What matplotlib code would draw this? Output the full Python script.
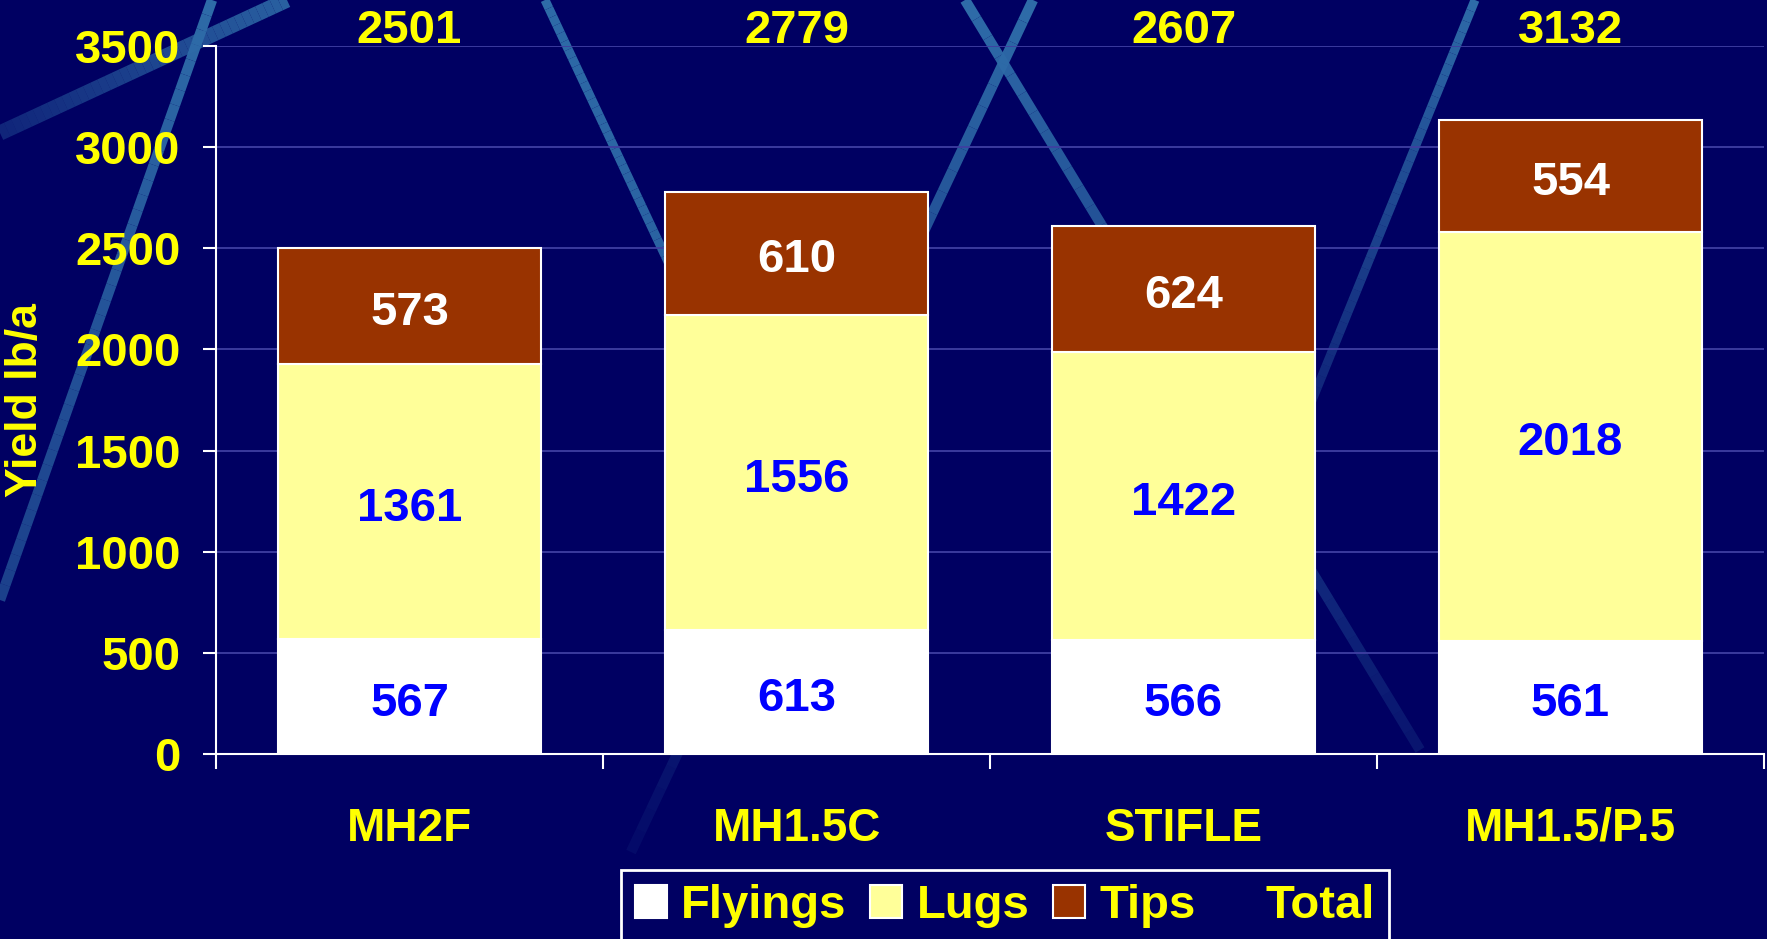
import numpy as np
import matplotlib.pyplot as plt
from matplotlib.patches import Patch
from matplotlib.collections import LineCollection

# donnees
categories = ['MH2F', 'MH1.5C', 'STIFLE', 'MH1.5/P.5']
flyings = [567, 613, 566, 561]
lugs = [1361, 1556, 1422, 2018]
tips = [573, 610, 624, 554]
totals = [2501, 2779, 2607, 3132]

W, H = 1767, 939
fond = '#000062'
jaune = '#ffff00'
plt.rcParams['font.family'] = 'Liberation Sans'
plt.rcParams['font.weight'] = 'bold'

fig = plt.figure(figsize=(W / 100, H / 100), dpi=100, facecolor=fond)


def trait(x0, y0, x1, y1, lw, a0, a1, n=40):
    # trait decoratif du fond, en pixels, avec fondu d'alpha
    xs = np.linspace(x0, x1, n + 1) / W
    ys = 1 - np.linspace(y0, y1, n + 1) / H
    segs = [[(xs[i], ys[i]), (xs[i + 1], ys[i + 1])] for i in range(n)]
    alphas = np.linspace(a0, a1, n)
    cols = [(0.18, 0.42, 0.66, a) for a in alphas]
    lc = LineCollection(segs, colors=cols, linewidths=lw, transform=fig.transFigure, zorder=0)
    fig.add_artist(lc)


trait(287, 0, 0, 133, 11, 0.9, 0.35)
trait(212, 0, 0, 600, 7.5, 1.0, 0.6)
trait(545, 0, 700, 330, 6.5, 1.0, 0.9)
trait(965, 0, 1420, 750, 7.5, 1.0, 0.2)
trait(1033, 0, 631, 852, 7.5, 1.0, 0.1)
trait(1475, 0, 1300, 430, 6.5, 1.0, 0.3)

ax = fig.add_axes([216 / W, 1 - 754 / H, (1764 - 216) / W, (754 - 46) / H])
ax.set_facecolor('none')

x = np.arange(len(categories))
larg = 0.68
bas2 = np.array(flyings)
bas3 = bas2 + np.array(lugs)
b1 = ax.bar(x, flyings, larg, color='white', edgecolor='white', linewidth=1.5, zorder=3)
b2 = ax.bar(x, lugs, larg, bottom=bas2, color='#ffff99', edgecolor='white', linewidth=1.5, zorder=3)
b3 = ax.bar(x, tips, larg, bottom=bas3, color='#993300', edgecolor='white', linewidth=1.5, zorder=3)

fs = 34


def etiquette(xv, yv, txt, coul):
    ax.annotate(txt, (xv, yv), xytext=(0, -5), textcoords='offset points',
                ha='center', va='center', color=coul, fontsize=fs, zorder=4)


for i in range(len(categories)):
    etiquette(x[i], flyings[i] / 2, str(flyings[i]), '#0000ff')
    etiquette(x[i], bas2[i] + lugs[i] / 2, str(lugs[i]), '#0000ff')
    etiquette(x[i], bas3[i] + tips[i] / 2, str(tips[i]), 'white')
    ax.annotate(str(totals[i]), (x[i], 3500), xytext=(0, 2), textcoords='offset points',
                ha='center', va='baseline', color=jaune, fontsize=fs, annotation_clip=False)

ax.set_ylim(0, 3500)
ax.set_xlim(-0.5, 3.5)
ax.set_yticks(np.arange(0, 3501, 500))
ax.set_xticks(x)
ax.set_xticklabels(categories)
ax.set_xticks(np.arange(-0.5, 4, 1), minor=True)
ax.grid(axis='y', color='#3f3fa2', linewidth=1.3, zorder=1)
ax.set_axisbelow(True)

for s in ['top', 'right']:
    ax.spines[s].set_visible(False)
for s in ['left', 'bottom']:
    ax.spines[s].set_color('white')
    ax.spines[s].set_linewidth(1.5)

ax.tick_params(axis='y', colors='white', labelcolor=jaune, labelsize=fs, length=9.5, width=1.5, pad=16)
ax.tick_params(axis='x', which='major', length=0, labelcolor=jaune, labelsize=33, pad=38)
ax.tick_params(axis='x', which='minor', colors='white', length=11, width=1.5)

fig.text(25 / W, 1 - 400 / H, 'Yield lb/a', rotation=90, ha='center', va='center', color=jaune, fontsize=32)

poignees = [b1, b2, b3, Patch(facecolor='none', edgecolor='none')]
leg = fig.legend(poignees, ['Flyings', 'Lugs', 'Tips', 'Total'], ncol=4, loc='upper center',
                 bbox_to_anchor=(1005 / W, 1 - 870 / H), fontsize=fs, frameon=True, fancybox=False,
                 facecolor=fond, edgecolor='white', framealpha=1, handlelength=0.68, handleheight=0.68,
                 handletextpad=0.3, columnspacing=0.5, borderpad=0.3, borderaxespad=0)
leg.get_frame().set_linewidth(2)
for t in leg.get_texts():
    t.set_color(jaune)

fig.savefig('out.png', dpi=100, facecolor=fond)
